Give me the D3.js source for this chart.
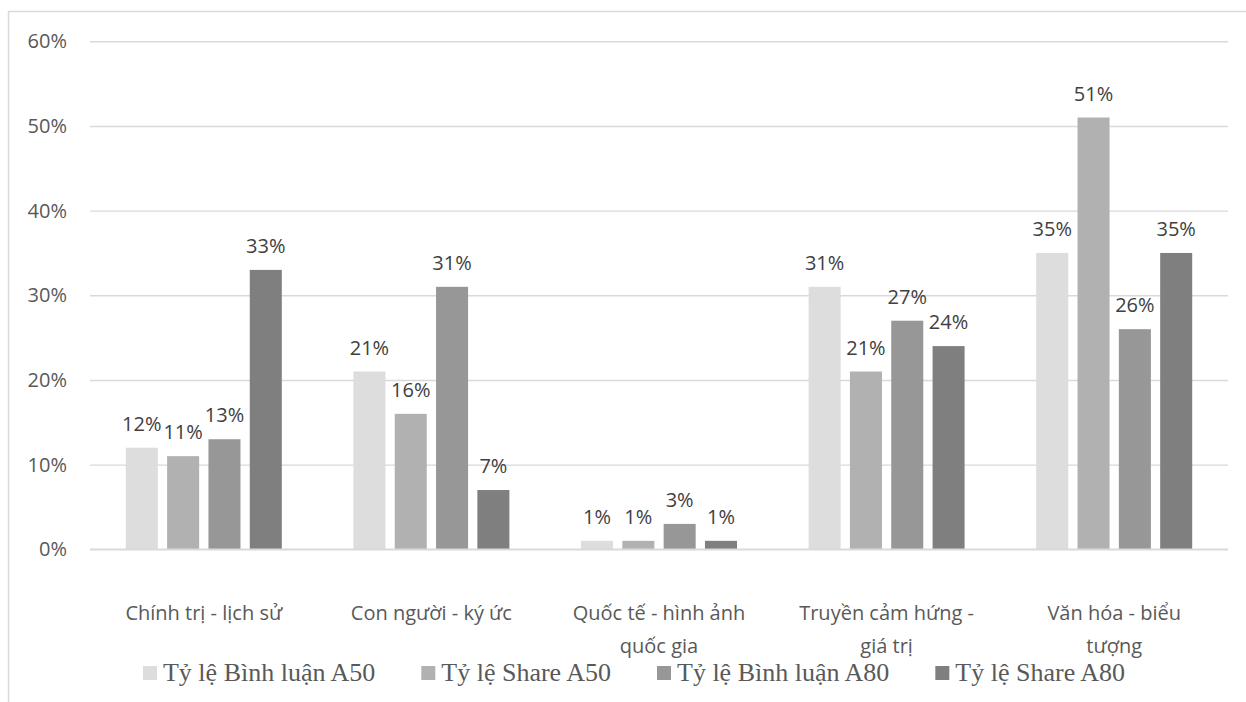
<!DOCTYPE html>
<html>
<head>
<meta charset="utf-8">
<script src="https://cdn.jsdelivr.net/npm/d3@7/dist/d3.min.js"></script>
<style>
  html, body { margin: 0; padding: 0; background: #fff; }
  svg { display: block; }
</style>
</head>
<body>
<svg id="chart" width="1246" height="702"></svg>
<script>
// Topic categories and their wrapped axis labels
const categories = [
  "Chính trị - lịch sử",
  "Con người - ký ức",
  "Quốc tế - hình ảnh quốc gia",
  "Truyền cảm hứng - giá trị",
  "Văn hóa - biểu tượng"
];
const categoryLines = [
  ["Chính trị - lịch sử"],
  ["Con người - ký ức"],
  ["Quốc tế - hình ảnh", "quốc gia"],
  ["Truyền cảm hứng -", "giá trị"],
  ["Văn hóa - biểu", "tượng"]
];

// Series names and values (share of posts, as fractions)
const seriesNames = [
  "Tỷ lệ Bình luận A50",
  "Tỷ lệ Share A50",
  "Tỷ lệ Bình luận A80",
  "Tỷ lệ Share A80"
];
const binhLuanA50 = [0.12, 0.21, 0.01, 0.31, 0.35];
const shareA50    = [0.11, 0.16, 0.01, 0.21, 0.51];
const binhLuanA80 = [0.13, 0.31, 0.03, 0.27, 0.26];
const shareA80    = [0.33, 0.07, 0.01, 0.24, 0.35];
const seriesValues = [binhLuanA50, shareA50, binhLuanA80, shareA80];
const seriesColors = ["#dddddd", "#b1b1b1", "#979797", "#7f7f7f"];

const yTicks = [0, 0.1, 0.2, 0.3, 0.4, 0.5, 0.6];

const svg = d3.select("#chart");
const W = 1246, H = 702;
const plot = { left: 90, right: 1228, top: 41.3, bottom: 549.3 };

svg.append("rect").attr("width", W).attr("height", H).attr("fill", "#fff");

// Chart frame (top and left edges)
svg.append("path")
  .attr("d", `M8.5,${H} V11.5 H${W}`)
  .attr("fill", "none")
  .attr("stroke", "#d9d9d9")
  .attr("stroke-width", 1.5);

const y = d3.scaleLinear().domain([0, 0.6]).range([plot.bottom, plot.top]);

const x0 = d3.scaleBand()
  .domain(d3.range(categories.length))
  .range([plot.left, plot.right])
  .paddingInner(0.3146)
  .paddingOuter(0.1573);

const x1 = d3.scaleBand()
  .domain(d3.range(seriesNames.length))
  .range([0, x0.bandwidth()])
  .paddingInner(0.225)
  .paddingOuter(0);

// Horizontal gridlines + y labels
const yAxis = d3.axisLeft(y)
  .tickValues(yTicks)
  .tickSize(-(plot.right - plot.left))
  .tickPadding(23)
  .tickFormat(d3.format(".0%"));

const gy = svg.append("g")
  .attr("transform", `translate(${plot.left},0)`)
  .call(yAxis);
gy.select(".domain").remove();
gy.selectAll(".tick line").attr("stroke", "#d9d9d9").attr("stroke-width", 1.4);
gy.selectAll(".tick text")
  .attr("fill", "#595959")
  .style("font-family", "'Open Sans', sans-serif")
  .style("font-size", "20px");

// Bars
const groups = svg.append("g").selectAll("g")
  .data(categories.map((c, i) => i))
  .join("g")
  .attr("transform", i => `translate(${x0(i)},0)`);

const cells = groups.selectAll("g.cell")
  .data(ci => seriesValues.map((vals, si) => ({ si, v: vals[ci] })))
  .join("g").attr("class", "cell");

cells.append("rect")
  .attr("x", d => x1(d.si))
  .attr("width", x1.bandwidth())
  .attr("y", d => y(d.v))
  .attr("height", d => y(0) - y(d.v))
  .attr("fill", d => seriesColors[d.si]);

cells.append("text")
  .attr("x", d => x1(d.si) + x1.bandwidth() / 2)
  .attr("y", d => y(d.v) - 17)
  .attr("text-anchor", "middle")
  .attr("fill", "#404040")
  .style("font-family", "'Open Sans', sans-serif")
  .style("font-size", "20px")
  .text(d => d3.format(".0%")(d.v));

// Baseline
svg.append("line")
  .attr("x1", plot.left).attr("x2", plot.right)
  .attr("y1", y(0)).attr("y2", y(0))
  .attr("stroke", "#d9d9d9").attr("stroke-width", 1.4);

// Category labels
const catG = svg.append("g").selectAll("text")
  .data(categoryLines)
  .join("text")
  .attr("text-anchor", "middle")
  .attr("fill", "#595959")
  .style("font-family", "'Open Sans', sans-serif")
  .style("font-size", "20px")
  .attr("transform", (d, i) => `translate(${x0(i) + x0.bandwidth() / 2},${plot.bottom + 71})`);
catG.selectAll("tspan")
  .data(d => d)
  .join("tspan")
  .attr("x", 0)
  .attr("dy", (d, i) => i === 0 ? 0 : 33)
  .text(d => d);

// Legend
const legend = svg.append("g");
const items = legend.selectAll("g")
  .data(seriesNames)
  .join("g");
items.append("rect")
  .attr("width", 14).attr("height", 14)
  .attr("y", -15)
  .attr("fill", (d, i) => seriesColors[i]);
items.append("text")
  .attr("x", 20)
  .attr("y", 0)
  .attr("fill", "#595959")
  .style("font-family", "'Liberation Serif', 'Times New Roman', serif")
  .style("font-size", "26px")
  .text(d => d);

const gap = 46;
let offs = [], cur = 0;
items.each(function(d, i) {
  const w = 20 + d3.select(this).select("text").node().getComputedTextLength();
  offs.push(cur);
  cur += w + gap;
});
const total = cur - gap;
const startX = (plot.left + plot.right) / 2 - total / 2 - 25;
items.attr("transform", (d, i) => `translate(${startX + offs[i]},${681})`);
</script>
</body>
</html>
